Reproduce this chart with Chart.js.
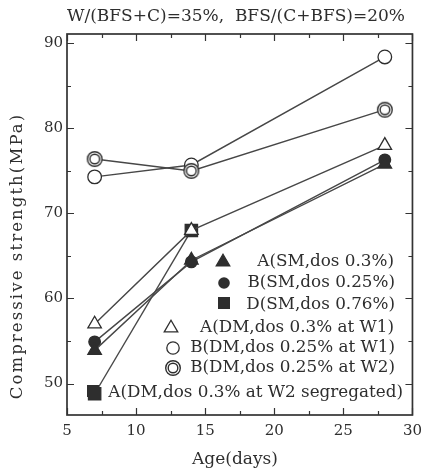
<!DOCTYPE html>
<html>
<head>
<meta charset="utf-8">
<script src="https://cdn.jsdelivr.net/npm/chart.js@4/dist/chart.umd.min.js"></script>
<style>
  html, body { margin: 0; padding: 0; background: #fff; }
  #wrap { width: 429px; height: 473px; }
</style>
</head>
<body>
<div id="wrap"><canvas id="strength-chart" width="429" height="473"></canvas></div>
<script>
// curing age (days) and compressive strength (MPa) per mix
const ages = [7, 14, 28];
const aSM = [53.9, 64.5, 75.8];
const bSM = [54.9, 64.3, 76.3];
const dSM = [48.8, 68.0, null];
const aDM1 = [57.0, 68.0, 78.0];
const bDM1 = [74.3, 75.7, 88.4];
const bDM2 = [76.4, 75.0, 82.2];

const xTicks = [5, 10, 15, 20, 25, 30];
const yTicks = [50, 60, 70, 80, 90];

const titleText = 'W/(BFS+C)=35%,  BFS/(C+BFS)=20%';
const xTitle = 'Age(days)';
const yTitle = 'Compressive strength(MPa)';
const legendLabels = [
  'A(SM,dos 0.3%)',
  'B(SM,dos 0.25%)',
  'D(SM,dos 0.76%)',
  'A(DM,dos 0.3% at W1)',
  'B(DM,dos 0.25% at W1)',
  'B(DM,dos 0.25% at W2)',
  'A(DM,dos 0.3% at W2 segregated)'
];

const INK = '#2e2e2e';
const LINE = '#474747';
const SERIF = '"DejaVu Serif", serif';

// double ring marker as an image so chart.js can place it like any pointStyle
function ringImage() {
  const c = document.createElement('canvas');
  c.width = 18; c.height = 18;
  const g = c.getContext('2d');
  g.fillStyle = '#fff';
  g.strokeStyle = INK;
  g.lineWidth = 1.4;
  g.beginPath(); g.arc(9, 9, 7.3, 0, Math.PI * 2); g.fill(); g.stroke();
  g.beginPath(); g.arc(9, 9, 4.8, 0, Math.PI * 2); g.stroke();
  return c;
}
const ring = ringImage();

function pts(vals) {
  return ages.map((a, i) => ({ x: a, y: vals[i] }));
}

function series(label, vals, style, radius, filled) {
  return {
    label,
    data: pts(vals),
    borderColor: LINE,
    borderWidth: 1.4,
    pointStyle: style,
    pointRadius: radius,
    pointHoverRadius: radius,
    pointBackgroundColor: filled ? INK : '#fff',
    pointBorderColor: INK,
    pointBorderWidth: 1.3,
    spanGaps: false,
    tension: 0,
    fill: false
  };
}

// first dataset ends up on top
const datasets = [
  series(legendLabels[3], aDM1, 'triangle', 7.8, false),
  series(legendLabels[5], bDM2, ring, 7, false),
  series(legendLabels[4], bDM1, 'circle', 6.8, false),
  series(legendLabels[0], aSM, 'triangle', 7.8, true),
  series(legendLabels[1], bSM, 'circle', 5.8, true),
  series(legendLabels[2], dSM, 'rect', 8.7, true)
];

function drawMarker(ctx, kind, x, y) {
  ctx.save();
  ctx.strokeStyle = INK;
  ctx.lineWidth = 1.3;
  if (kind === 'ftri' || kind === 'otri') {
    const r = 7.8;
    ctx.beginPath();
    ctx.moveTo(x, y - r);
    ctx.lineTo(x + r * 0.866, y + r / 2);
    ctx.lineTo(x - r * 0.866, y + r / 2);
    ctx.closePath();
    ctx.fillStyle = kind === 'ftri' ? INK : '#fff';
    ctx.fill(); ctx.stroke();
  } else if (kind === 'fdot') {
    ctx.beginPath(); ctx.arc(x, y, 5.8, 0, Math.PI * 2);
    ctx.fillStyle = INK; ctx.fill();
  } else if (kind === 'fsq') {
    ctx.fillStyle = INK;
    ctx.fillRect(x - 6, y - 6, 12, 12);
  } else if (kind === 'odot') {
    ctx.beginPath(); ctx.arc(x, y, 6.2, 0, Math.PI * 2);
    ctx.fillStyle = '#fff'; ctx.fill(); ctx.stroke();
  } else if (kind === 'ring') {
    ctx.drawImage(ring, x - 9, y - 9);
  }
  ctx.restore();
}

const legendRows = [
  { kind: 'ftri', mx: 223, y: 262, right: 394 },
  { kind: 'fdot', mx: 224, y: 283, right: 395 },
  { kind: 'fsq', mx: 224, y: 305, right: 395 },
  { kind: 'otri', mx: 171, y: 328, right: 394 },
  { kind: 'odot', mx: 173, y: 348, right: 395 },
  { kind: 'ring', mx: 173, y: 368, right: 395 },
  { kind: 'fsq', mx: 93, y: 393, right: 403 }
];

const framePlugin = {
  id: 'frame',
  beforeDatasetsDraw(chart) {
    const { ctx, chartArea: a, scales } = chart;
    const xs = scales.x, ys = scales.y;
    ctx.save();
    ctx.strokeStyle = '#333';
    ctx.lineWidth = 1.7;
    ctx.strokeRect(a.left, a.top, a.right - a.left, a.bottom - a.top);
    ctx.lineWidth = 1.2;
    ctx.beginPath();
    for (let v = 5; v <= 30; v += 2.5) {
      const px = Math.round(xs.getPixelForValue(v)) + 0.5;
      const len = v % 5 === 0 ? 7 : 4;
      ctx.moveTo(px, a.bottom); ctx.lineTo(px, a.bottom - len);
      ctx.moveTo(px, a.top); ctx.lineTo(px, a.top + len);
    }
    for (let v = 50; v <= 90; v += 5) {
      const py = Math.round(ys.getPixelForValue(v)) + 0.5;
      const len = v % 10 === 0 ? 7 : 4;
      ctx.moveTo(a.left, py); ctx.lineTo(a.left + len, py);
      ctx.moveTo(a.right, py); ctx.lineTo(a.right - len, py);
    }
    ctx.stroke();
    ctx.restore();
  },
  afterDraw(chart) {
    const { ctx } = chart;
    ctx.save();
    ctx.fillStyle = INK;
    ctx.textBaseline = 'middle';

    ctx.font = '17px ' + SERIF;
    ctx.textAlign = 'center';
    ctx.fillText(titleText, 236, 17);

    ctx.font = '17px ' + SERIF;
    ctx.fillText(xTitle, 235, 460);

    ctx.save();
    ctx.translate(18, 256);
    ctx.rotate(-Math.PI / 2);
    ctx.font = '16.5px ' + SERIF;
    ctx.letterSpacing = '2.1px';
    ctx.fillText(yTitle, 0, 0);
    ctx.restore();

    ctx.font = '16.8px ' + SERIF;
    ctx.textAlign = 'right';
    legendRows.forEach((row, i) => {
      drawMarker(ctx, row.kind, row.mx, row.kind === 'fsq' ? row.y - 2 : row.y);
      ctx.fillStyle = INK;
      ctx.fillText(legendLabels[i], row.right, row.y);
    });
    ctx.restore();
  }
};

new Chart(document.getElementById('strength-chart'), {
  type: 'line',
  data: { datasets },
  options: {
    responsive: false,
    animation: false,
    events: [],
    layout: { padding: { left: 0, right: 14, top: 34, bottom: 0 } },
    plugins: { legend: { display: false }, tooltip: { enabled: false }, title: { display: false } },
    scales: {
      x: {
        type: 'linear',
        min: 5,
        max: 30,
        afterBuildTicks: s => { s.ticks = xTicks.map(v => ({ value: v })); },
        afterFit: s => { s.height = 58; },
        grid: { display: false, drawTicks: false },
        border: { display: false },
        ticks: { color: INK, font: { family: SERIF, size: 15 }, padding: 7, maxRotation: 0 }
      },
      y: {
        type: 'linear',
        min: 46.3,
        max: 91.1,
        afterBuildTicks: s => { s.ticks = yTicks.map(v => ({ value: v })); },
        afterFit: s => { s.width = 67; },
        grid: { display: false, drawTicks: false },
        border: { display: false },
        ticks: { color: INK, font: { family: SERIF, size: 15 }, padding: 4 }
      }
    }
  },
  plugins: [framePlugin]
});
</script>
</body>
</html>
